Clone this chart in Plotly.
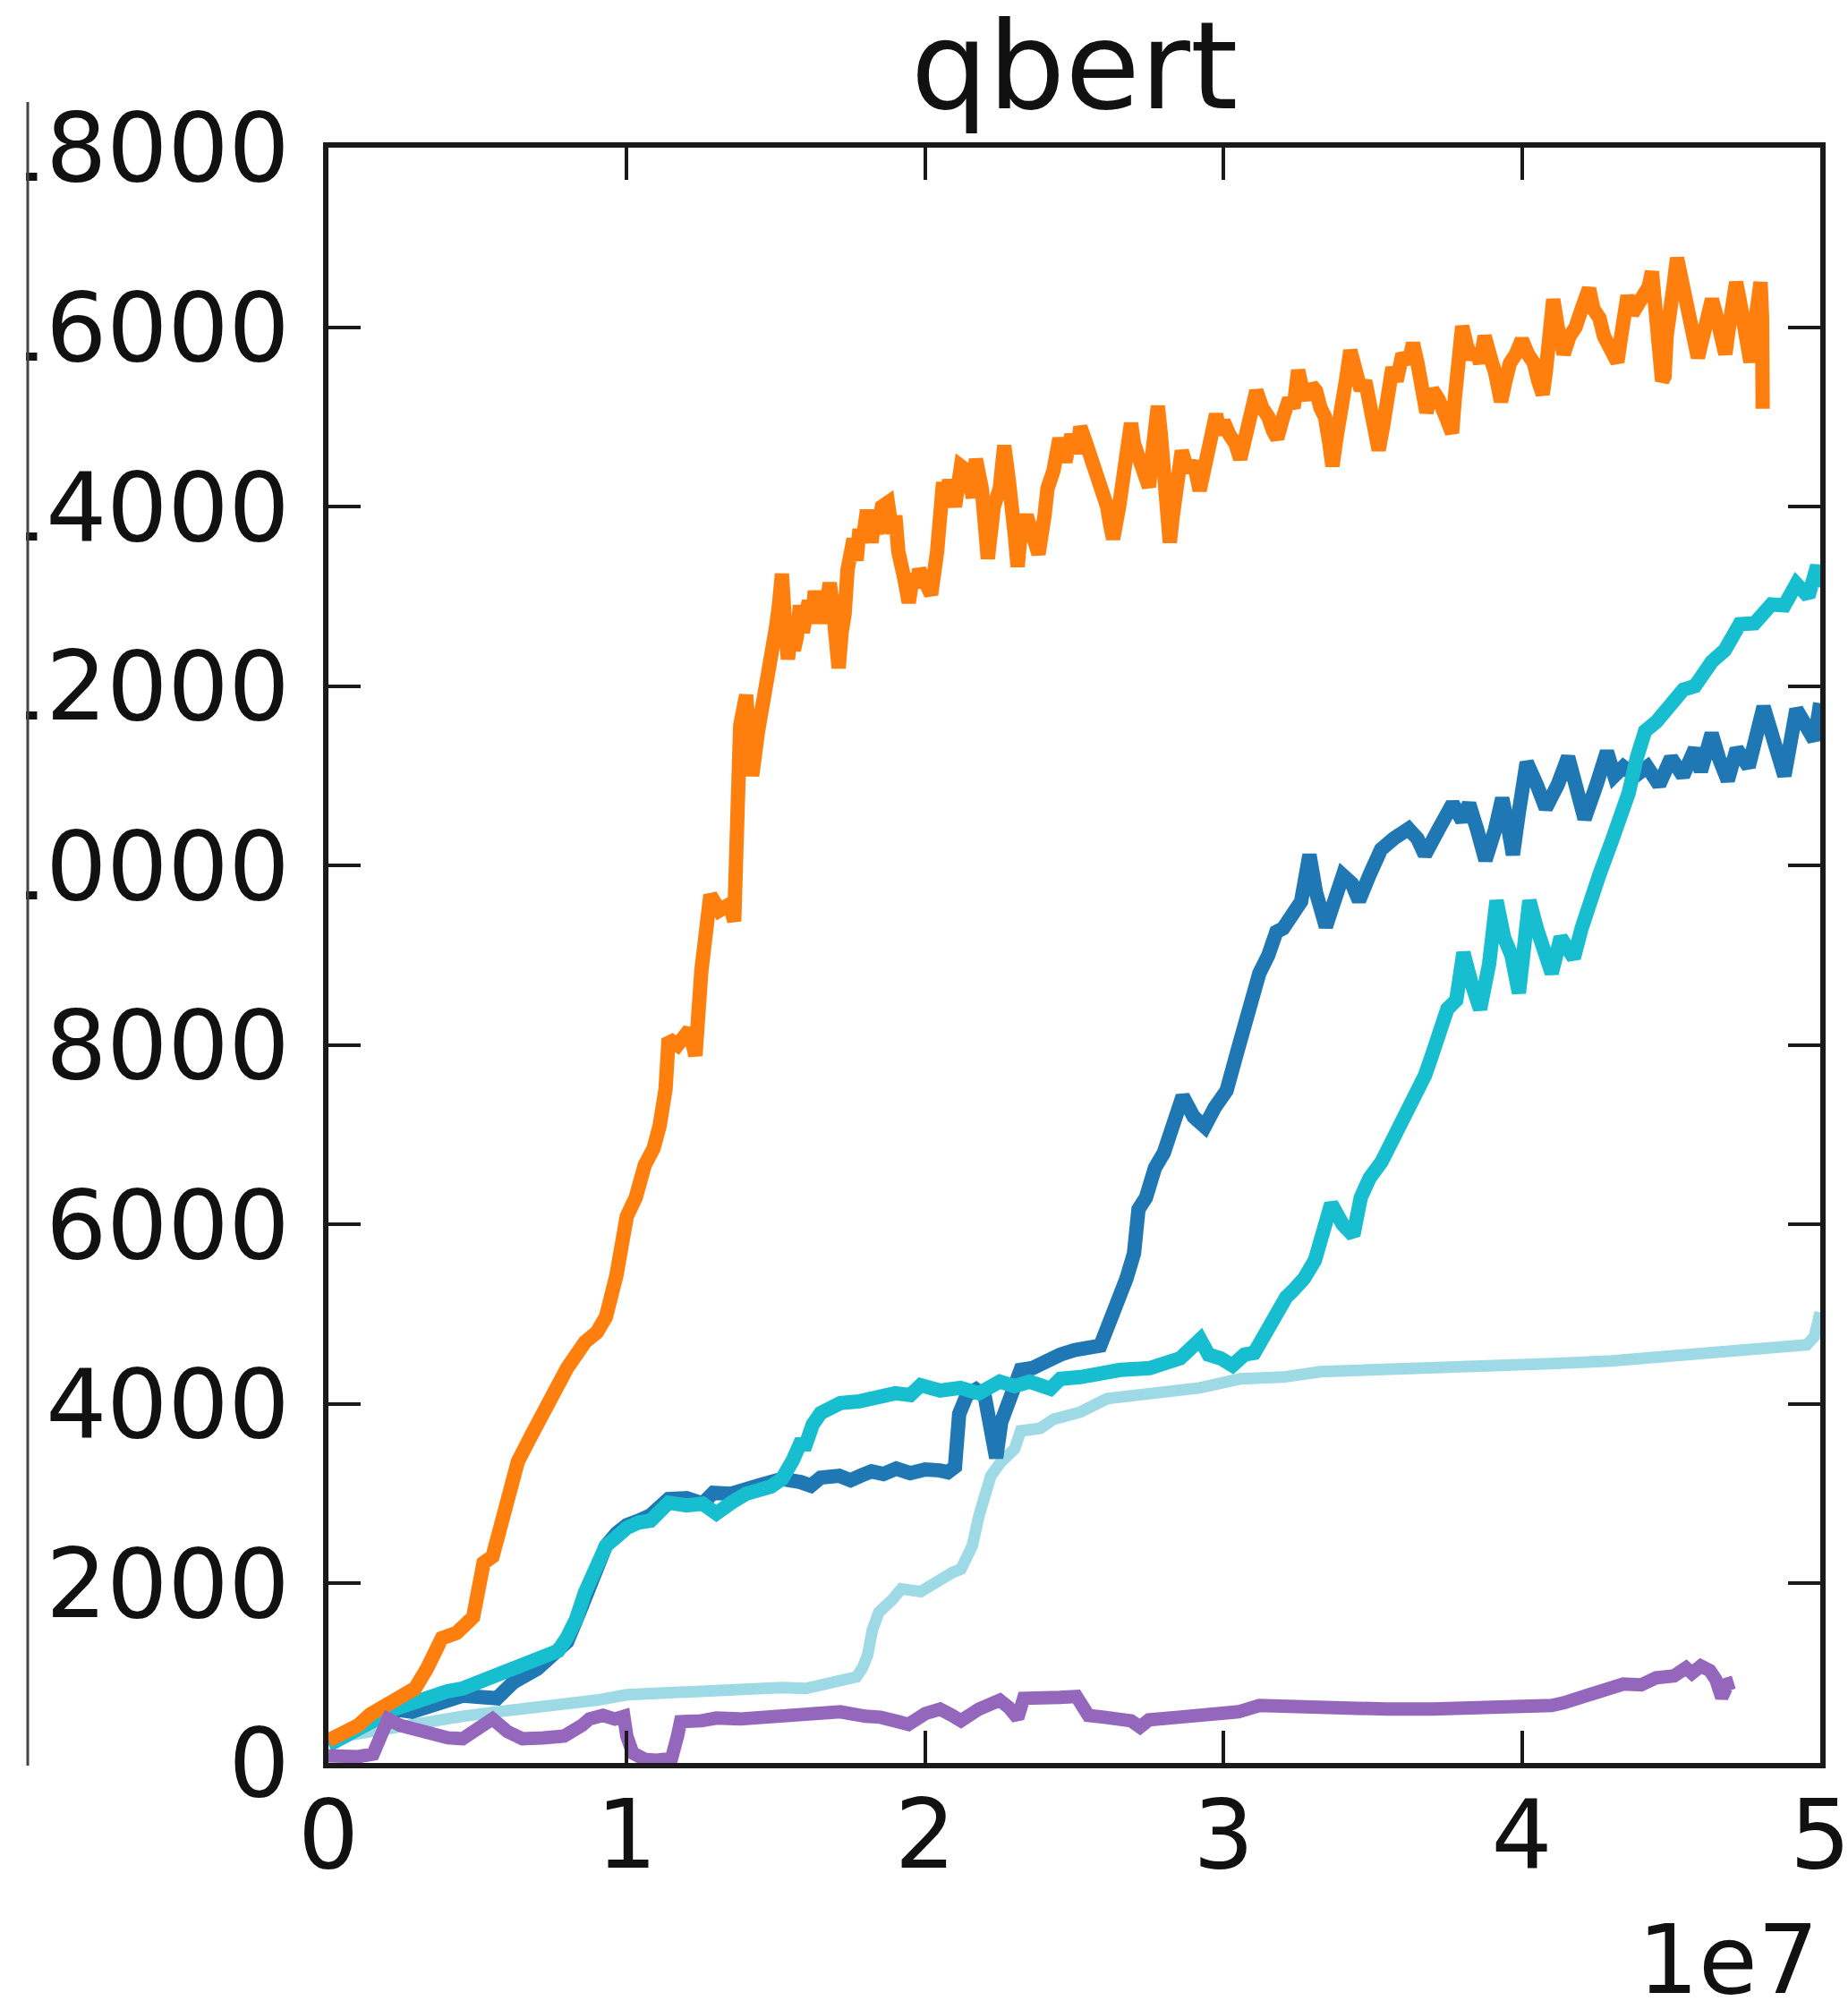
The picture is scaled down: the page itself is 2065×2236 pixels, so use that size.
import plotly.graph_objects as go

# Environment steps are stored in units of 1e7 (the axis offset label shows "1e7").
orange_x = [0.00, 0.05, 0.10, 0.14, 0.20, 0.25, 0.29, 0.33, 0.38, 0.43, 0.485, 0.52, 0.55, 0.575, 0.60,
            0.635, 0.68, 0.72, 0.76, 0.80, 0.86, 0.90, 0.93, 0.965, 1.00, 1.03, 1.06, 1.09, 1.11, 1.13,
            1.14, 1.17, 1.21, 1.23, 1.25, 1.28, 1.31, 1.345, 1.36, 1.37, 1.38, 1.40, 1.42, 1.44, 1.46,
            1.49, 1.50, 1.51, 1.52, 1.53, 1.54, 1.55, 1.56, 1.57, 1.58, 1.59, 1.60, 1.61, 1.62, 1.63,
            1.64, 1.65, 1.66, 1.67, 1.68, 1.69, 1.70, 1.71, 1.72, 1.73, 1.74, 1.75, 1.76, 1.77, 1.78,
            1.79, 1.805, 1.82, 1.83, 1.84, 1.855, 1.875, 1.89, 1.90, 1.91, 1.93, 1.945, 1.96, 1.97, 1.98,
            2.00, 2.02, 2.04, 2.06, 2.07, 2.08, 2.10, 2.12, 2.14, 2.16, 2.17, 2.19, 2.21, 2.22, 2.23,
            2.25, 2.265, 2.28, 2.29, 2.30, 2.31, 2.32, 2.34, 2.36, 2.38, 2.40, 2.41, 2.43, 2.45, 2.47,
            2.49, 2.51, 2.52, 2.54, 2.55, 2.57, 2.585, 2.60, 2.61, 2.62, 2.63, 2.65, 2.66, 2.675, 2.69,
            2.70, 2.72, 2.73, 2.75, 2.765, 2.78, 2.79, 2.80, 2.81, 2.82, 2.83, 2.84, 2.86, 2.88, 2.90,
            2.92, 2.935, 2.95, 2.975, 2.99, 3.00, 3.02, 3.04, 3.056, 3.07, 3.08, 3.095, 3.11, 3.13, 3.15,
            3.165, 3.18, 3.20, 3.22, 3.235, 3.25, 3.265, 3.28, 3.295, 3.31, 3.325, 3.34, 3.355, 3.365, 3.38,
            3.39, 3.41, 3.425, 3.44, 3.46, 3.475, 3.49, 3.505, 3.52, 3.535, 3.545, 3.555, 3.566, 3.58, 3.60,
            3.62, 3.635, 3.65, 3.66, 3.67, 3.68, 3.70, 3.72, 3.745, 3.766, 3.775, 3.785, 3.80, 3.815, 3.83,
            3.845, 3.86, 3.875, 3.885, 3.90, 3.91, 3.93, 3.945, 3.96, 3.98, 4.00, 4.02, 4.04, 4.055, 4.07,
            4.08, 4.09, 4.105, 4.12, 4.14, 4.16, 4.18, 4.20, 4.225, 4.24, 4.26, 4.275, 4.29, 4.305, 4.32,
            4.335, 4.354, 4.37, 4.38, 4.395, 4.41, 4.425, 4.436, 4.445, 4.455, 4.462, 4.47, 4.478, 4.485, 4.495,
            4.51, 4.52, 4.535, 4.55, 4.57, 4.59, 4.60, 4.61, 4.625, 4.637, 4.65, 4.66, 4.672, 4.682, 4.692,
            4.70, 4.71, 4.718, 4.73, 4.74, 4.755, 4.766, 4.775, 4.785, 4.795, 4.80, 4.805, 4.807]
orange_y = [250, 330, 420, 540, 640, 740, 830, 1050, 1390, 1450, 1625, 2230, 2300, 2610, 2900,
            3360, 3650, 3900, 4210, 4400, 4690, 4800, 4970, 5430, 6090, 6300, 6660, 6850, 7100, 7510,
            8070, 8000, 8170, 7880, 8830, 9670, 9500, 9570, 9380, 11080, 11560, 11900, 11000, 11500, 11840,
            12500, 12650, 12900, 13250, 12700, 12300, 12600, 12400, 12550, 12900, 12600, 12780, 12950, 12700, 13060,
            12800, 12950, 12700, 12900, 13150, 12900, 12500, 12200, 12600, 12800, 13300, 13430, 13640, 13400, 13750,
            13600, 13960, 13600, 13850, 13700, 14000, 14045, 13700, 13900, 13500, 13200, 12930, 13250, 13100, 13300,
            13150, 13020, 13500, 14270, 14000, 14300, 14000, 14450, 14400, 14100, 14530, 14200, 13420, 13700, 14000,
            14200, 14680, 14300, 14100, 13700, 13330, 13700, 13900, 13600, 13470, 13900, 14200, 14400, 14760, 14500,
            14800, 14600, 14890, 14700, 14600, 14400, 14310, 14100, 14000, 13800, 13640, 14000, 14300, 14600, 14930,
            14700, 14500, 14300, 14220, 14700, 15120, 14800, 14400, 13900, 13600, 13900, 14200, 14620, 14400, 14500,
            14180, 14400, 14600, 15030, 14800, 14950, 14800, 14700, 14530, 14700, 14900, 15100, 15290, 15100, 15000,
            14850, 14760, 15000, 15200, 15100, 15520, 15300, 15200, 15350, 15290, 15100, 15000, 14700, 14450, 14800,
            15100, 15400, 15740, 15500, 15300, 15400, 15100, 14900, 14630, 14900, 15100, 15300, 15550, 15400, 15700,
            15600, 15820, 15600, 15400, 15200, 15050, 15300, 15200, 15000, 14820, 15200, 15600, 16010, 15800, 15650,
            15750, 15600, 15900, 15820, 15600, 15500, 15170, 15400, 15600, 15700, 15860, 15700, 15600, 15400, 15250,
            15500, 15800, 16310, 16000, 15700, 15900, 16000, 16200, 16430, 16200, 16100, 15900, 15800, 15650, 15610,
            15950, 16350, 16150, 16200, 16250, 16310, 16450, 16620, 16300, 16000, 15700, 15400, 15450, 15900, 16300,
            16500, 16770, 16500, 16300, 16000, 15660, 15800, 16000, 16200, 16310, 16150, 16000, 15850, 15700, 15950,
            16200, 16450, 16500, 16300, 16100, 15800, 15610, 15900, 16200, 16450, 16500, 16100, 15090]

blue_x = [0.00, 0.05, 0.10, 0.15, 0.22, 0.28, 0.35, 0.45, 0.565, 0.62, 0.70, 0.77, 0.80, 0.84, 0.87,
          0.897, 0.93, 0.966, 1.00, 1.04, 1.08, 1.14, 1.20, 1.254, 1.29, 1.35, 1.40, 1.45, 1.52, 1.55,
          1.582, 1.617, 1.65, 1.712, 1.75, 1.783, 1.82, 1.86, 1.903, 1.95, 2.00, 2.05, 2.076, 2.10, 2.114,
          2.14, 2.17, 2.20, 2.215, 2.238, 2.255, 2.279, 2.32, 2.36, 2.40, 2.453, 2.50, 2.55, 2.587, 2.627,
          2.654, 2.675, 2.70, 2.715, 2.74, 2.77, 2.80, 2.826, 2.845, 2.863, 2.90, 2.937, 2.97, 3.01, 3.048,
          3.07, 3.085, 3.10, 3.12, 3.15, 3.177, 3.20, 3.232, 3.26, 3.288, 3.31, 3.343, 3.37, 3.40, 3.43,
          3.454, 3.49, 3.528, 3.57, 3.62, 3.65, 3.675, 3.72, 3.768, 3.80, 3.823, 3.85, 3.878, 3.91, 3.934,
          3.95, 3.97, 3.99, 4.016, 4.05, 4.08, 4.12, 4.155, 4.18, 4.21, 4.25, 4.285, 4.31, 4.34, 4.38,
          4.42, 4.46, 4.50, 4.54, 4.58, 4.60, 4.636, 4.66, 4.69, 4.72, 4.76, 4.81, 4.85, 4.88, 4.92,
          4.955, 4.98, 5.00]
blue_y = [250, 330, 420, 500, 600, 570, 650, 750, 720, 900, 1050, 1250, 1350, 1670, 1950,
          2230, 2420, 2560, 2650, 2700, 2760, 2940, 2950, 2890, 3010, 3000, 3070, 3100, 3165, 3160,
          3130, 3090, 3180, 3200, 3150, 3200, 3250, 3220, 3280, 3230, 3270, 3260, 3240, 3300, 3890,
          4100, 4160, 4080, 3700, 3400, 3800, 4010, 4380, 4400, 4480, 4550, 4600, 4630, 4650, 4990,
          5190, 5400, 5680, 6170, 6300, 6630, 6800, 7030, 7200, 7430, 7200, 7090, 7300, 7490, 7950,
          8200, 8460, 8600, 8800, 9000, 9260, 9300, 9490, 9600, 10120, 9700, 9320, 9600, 9890, 9800,
          9610, 9900, 10180, 10300, 10410, 10300, 10120, 10400, 10690, 10500, 10690, 10400, 10060, 10400, 10750,
          10500, 10120, 10600, 11150, 10900, 10640, 10900, 11210, 10900, 10520, 10900, 11270, 11000, 11100, 11000,
          11100, 10900, 11200, 11000, 11300, 11050, 11470, 11200, 10950, 11300, 11100, 11770, 11350, 11000, 11740,
          11510, 11400, 11810]

cyan_x = [0.00, 0.05, 0.10, 0.15, 0.22, 0.30, 0.40, 0.45, 0.55, 0.62, 0.70, 0.77, 0.80, 0.83, 0.86,
          0.897, 0.93, 0.966, 1.00, 1.04, 1.08, 1.14, 1.20, 1.254, 1.30, 1.35, 1.40, 1.483, 1.52, 1.556,
          1.58, 1.60, 1.623, 1.65, 1.716, 1.78, 1.85, 1.90, 1.95, 1.985, 2.05, 2.118, 2.18, 2.25, 2.30,
          2.35, 2.42, 2.453, 2.52, 2.567, 2.654, 2.752, 2.80, 2.855, 2.922, 2.95, 2.99, 3.03, 3.07, 3.103,
          3.122, 3.177, 3.21, 3.232, 3.27, 3.306, 3.33, 3.361, 3.40, 3.435, 3.46, 3.49, 3.53, 3.56, 3.60,
          3.64, 3.675, 3.70, 3.75, 3.78, 3.804, 3.83, 3.86, 3.89, 3.915, 3.94, 3.965, 3.99, 4.025, 4.05,
          4.07, 4.10, 4.13, 4.174, 4.20, 4.23, 4.26, 4.303, 4.33, 4.358, 4.385, 4.413, 4.45, 4.50, 4.541,
          4.58, 4.636, 4.68, 4.73, 4.78, 4.836, 4.88, 4.92, 4.96, 4.99, 5.00]
cyan_y = [200, 280, 380, 470, 600, 700, 800, 830, 950, 1060, 1150, 1250, 1400, 1600, 1900,
          2230, 2420, 2520, 2620, 2680, 2700, 2900, 2870, 2890, 2780, 2900, 3000, 3080, 3165, 3370,
          3550, 3550, 3770, 3900, 4010, 4030, 4070, 4120, 4100, 4210, 4150, 4180, 4120, 4250, 4200,
          4250, 4170, 4280, 4300, 4340, 4380, 4400, 4460, 4510, 4720, 4550, 4510, 4430, 4550, 4570,
          4680, 5030, 5190, 5260, 5400, 5600, 5900, 6230, 6000, 5880, 6300, 6520, 6700, 6900, 7150,
          7400, 7660, 7900, 8400, 8500, 9030, 8700, 8400, 8900, 9610, 9200, 9000, 8580, 9610, 9300,
          9100, 8800, 9200, 8970, 9300, 9660, 9900, 10290, 10500, 10810, 11200, 11500, 11600, 11800, 11960,
          12000, 12270, 12400, 12690, 12700, 12910, 12900, 13140, 13000, 13340, 13100]

light_x = [0.00, 0.10, 0.20, 0.336, 0.45, 0.565, 0.70, 0.795, 0.90, 1.00, 1.14, 1.25, 1.40, 1.52, 1.60,
           1.71, 1.77, 1.79, 1.807, 1.823, 1.845, 1.89, 1.92, 1.985, 2.05, 2.09, 2.12, 2.158, 2.18, 2.20,
           2.22, 2.253, 2.30, 2.32, 2.386, 2.43, 2.48, 2.52, 2.61, 2.72, 2.92, 3.055, 3.20, 3.325, 3.548,
           3.70, 3.935, 4.10, 4.30, 4.55, 4.75, 4.955, 4.98, 5.00]
light_y = [270, 330, 380, 450, 520, 570, 620, 640, 700, 760, 790, 800, 820, 840, 830,
           910, 960, 1060, 1200, 1480, 1680, 1820, 1940, 1910, 2050, 2120, 2160, 2420, 2750, 2930,
           3200, 3350, 3500, 3700, 3730, 3830, 3890, 3910, 4060, 4110, 4180, 4280, 4300, 4360, 4380,
           4390, 4420, 4450, 4480, 4540, 4600, 4660, 4750, 5020]

purple_x = [0.00, 0.05, 0.10, 0.15, 0.18, 0.20, 0.24, 0.28, 0.34, 0.40, 0.45, 0.50, 0.55, 0.60, 0.65,
            0.72, 0.79, 0.85, 0.875, 0.92, 0.96, 0.99, 1.00, 1.02, 1.06, 1.10, 1.15, 1.17, 1.18, 1.25,
            1.30, 1.38, 1.45, 1.55, 1.65, 1.715, 1.80, 1.85, 1.91, 1.944, 2.00, 2.05, 2.09, 2.12, 2.18,
            2.25, 2.28, 2.31, 2.33, 2.386, 2.45, 2.507, 2.547, 2.60, 2.655, 2.69, 2.72, 2.75, 2.85, 2.99,
            3.05, 3.12, 3.25, 3.40, 3.55, 3.70, 3.85, 4.00, 4.10, 4.14, 4.22, 4.30, 4.34, 4.40, 4.45,
            4.51, 4.55, 4.57, 4.60, 4.63, 4.65, 4.67, 4.69, 4.71]
purple_y = [80, 60, 70, 100, 300, 490, 420, 380, 330, 280, 270, 360, 490, 350, 270,
            280, 300, 420, 490, 530, 490, 520, 300, 110, 40, 30, 50, 300, 460, 470,
            500, 490, 500, 540, 560, 570, 520, 510, 460, 430, 550, 600, 530, 470, 600,
            700, 620, 500, 720, 740, 730, 740, 530, 510, 500, 470, 400, 480, 510, 530,
            570, 640, 620, 590, 600, 600, 610, 610, 640, 670, 760, 830, 880, 870, 950,
            970, 1060, 1000, 1080, 1030, 930, 730, 880, 900]

y_ticks = [0, 2000, 4000, 6000, 8000, 10000, 12000, 14000, 16000, 18000]
x_ticks = [0, 1, 2, 3, 4, 5]

# Drawn bottom to top
series = [
    (light_x, light_y, "#9edae5", 13),
    (blue_x, blue_y, "#1f77b4", 16),
    (cyan_x, cyan_y, "#17becf", 16),
    (orange_x, orange_y, "#ff7f0e", 16),
    (purple_x, purple_y, "#9467bd", 15),
]

FONT = "DejaVu Sans"
W, H = 2065, 2236
L, R, T, B = 367, 31, 165, 266
PW, PH = W - L - R, H - T - B


def px_to_paper_x(px):
    return (px - L) / PW


def px_to_paper_y(py):
    return (H - B - py) / PH


fig = go.Figure()
for xs, ys, color, width in series:
    fig.add_trace(go.Scatter(x=xs, y=ys, mode="lines",
                             line=dict(color=color, width=width),
                             showlegend=False, hoverinfo="skip"))

# Tick label of the neighbouring panel, partially visible at the left edge
fig.add_trace(go.Scatter(x=[(27 - L) / PW * 5], y=[-790], mode="text", text=["5"],
                         textfont=dict(family=FONT, size=107, color="#111111"),
                         textposition="middle center", cliponaxis=False,
                         showlegend=False, hoverinfo="skip"))

axis_common = dict(showline=True, linecolor="#1a1a1a", linewidth=6, mirror="ticks",
                   ticks="inside", ticklen=36, tickwidth=4, tickcolor="#1a1a1a",
                   showgrid=False, zeroline=False, automargin=False,
                   ticklabeloverflow="allow",
                   tickfont=dict(family=FONT, size=107, color="#111111"))

fig.update_xaxes(range=[0, 5], tickvals=x_ticks, ticktext=[str(v) for v in x_ticks],
                 ticklabelstandoff=-17, **axis_common)
fig.update_yaxes(range=[0, 18000], tickvals=y_ticks, ticktext=[str(v) for v in y_ticks],
                 ticklabelstandoff=16, **axis_common)

fig.update_layout(
    width=W, height=H,
    margin=dict(l=L, r=R, t=T, b=B, pad=0),
    paper_bgcolor="white", plot_bgcolor="white",
    title=dict(text="qbert", x=0.5, xref="paper", xanchor="center",
               y=1 - 73 / H, yref="container", yanchor="middle",
               font=dict(family=FONT, size=136, color="#111111")),
    annotations=[dict(text="1e7", xref="paper", yref="paper",
                      x=px_to_paper_x(2034), y=px_to_paper_y(2190),
                      xanchor="right", yanchor="middle", showarrow=False,
                      font=dict(family=FONT, size=107, color="#111111"))],
    shapes=[
        # blank strip at the far left edge, over the cut-off labels
        dict(type="rect", xref="paper", yref="paper",
             x0=px_to_paper_x(-20), x1=px_to_paper_x(29),
             y0=px_to_paper_y(H + 20), y1=px_to_paper_y(-20),
             fillcolor="white", line=dict(width=0), layer="above"),
        # frame edge of the neighbouring panel
        dict(type="line", xref="paper", yref="paper",
             x0=px_to_paper_x(31), x1=px_to_paper_x(31),
             y0=px_to_paper_y(1973), y1=px_to_paper_y(114),
             line=dict(color="#444444", width=3), layer="above"),
    ],
)

fig.write_html("out.html")
